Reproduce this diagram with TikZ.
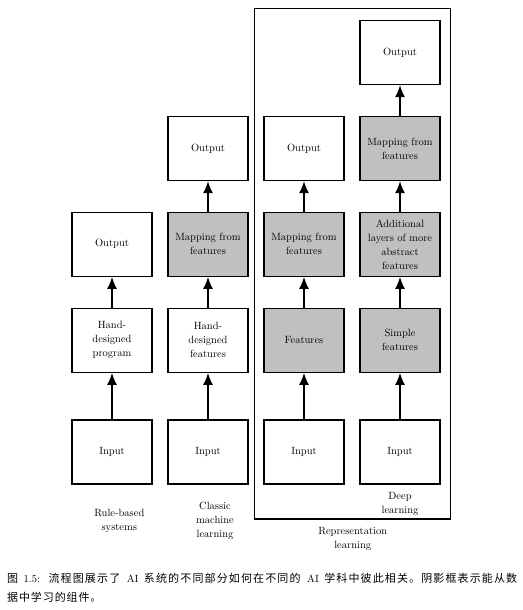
\documentclass[tikz,border=0pt]{standalone}
\usepackage{fontspec}
\newfontfamily\cjk{Noto Sans CJK SC}
\usetikzlibrary{arrows.meta}
\definecolor{shade}{RGB}{192,192,192}
\newcommand{\cj}[1]{{\cjk\fontsize{11}{14}\selectfont #1}}
\def\spc#1{\ifx#1\relax\else#1\hskip0pt plus 1pt\expandafter\spc\fi}
\newcommand{\cjs}[1]{{\cjk\fontsize{11}{14}\selectfont\spc#1\relax}}
\def\spf#1{\ifx#1\relax\else#1\hskip0.9pt\expandafter\spf\fi}
\newcommand{\cjf}[1]{{\cjk\fontsize{11}{14}\selectfont\spf#1\relax}}
\begin{document}
\begin{tikzpicture}[x=1pt,y=-1pt,
  box/.style={draw=black,line width=1.2pt,minimum width=80pt,minimum height=64pt,inner sep=0pt,align=center,font=\fontsize{10.5}{14}\selectfont},
  learned/.style={box,fill=shade},
  flow/.style={line width=1.5pt,-{Latex[length=12pt,width=10pt]}},
  lbl/.style={align=center,inner sep=0pt,font=\fontsize{10.5}{14}\selectfont}]
\useasboundingbox (0,0) rectangle (522,610);
% frame
\draw[line width=1.2pt] (254.3,8.3) rectangle (450.7,519);
% column 1
\node[box] (in1) at (112,452) {Input};
\node[box] (hd1) at (112,340.3) {Hand-\\designed\\program};
\node[box] (out1) at (112,244.3) {Output};
% column 2
\node[box] (in2) at (208,452) {Input};
\node[box] (hd2) at (208,340.3) {Hand-\\designed\\features};
\node[learned] (map2) at (208,244.3) {Mapping from\\features};
\node[box] (out2) at (208,148.5) {Output};
% column 3
\node[box] (in3) at (304,452) {Input};
\node[learned] (feat3) at (304,340.3) {Features};
\node[learned] (map3) at (304,244.3) {Mapping from\\features};
\node[box] (out3) at (304,148.5) {Output};
% column 4
\node[box] (in4) at (400,452) {Input};
\node[learned] (simp4) at (400,340.3) {Simple\\features};
\node[learned] (add4) at (400,244.3) {Additional\\layers of more\\abstract\\features};
\node[learned] (map4) at (400,148.5) {Mapping from\\features};
\node[box] (out4) at (400,52.5) {Output};
% arrows
\draw[flow] (in1) -- (hd1);
\draw[flow] (hd1) -- (out1);
\draw[flow] (in2) -- (hd2);
\draw[flow] (hd2) -- (map2);
\draw[flow] (map2) -- (out2);
\draw[flow] (in3) -- (feat3);
\draw[flow] (feat3) -- (map3);
\draw[flow] (map3) -- (out3);
\draw[flow] (in4) -- (simp4);
\draw[flow] (simp4) -- (add4);
\draw[flow] (add4) -- (map4);
\draw[flow] (map4) -- (out4);
% labels
\node[lbl] (l1) at (119.3,521) {Rule-based\\systems};
\node[lbl] (l2) at (215,520.7) {Classic\\machine\\learning};
\node[lbl] (l4) at (400,503.7) {Deep\\learning};
\node[lbl] (l3) at (352.7,539) {Representation\\learning};
% caption
\node[anchor=base west,inner sep=0pt,font=\fontsize{10.5}{14}\selectfont] (cap1) at (7,582.5) {\makebox[510pt][s]{\cj{图} 1.5: \cjs{流程图展示了} AI \cjs{系统的不同部分如何在不同的} AI \cjs{学科中彼此相关。阴影框表示能从}\cj{数}}};
\node[anchor=base west,inner sep=0pt,font=\fontsize{10.5}{14}\selectfont] (cap2) at (7,601) {\cjf{据中学习的组件。}};
\end{tikzpicture}
\end{document}
